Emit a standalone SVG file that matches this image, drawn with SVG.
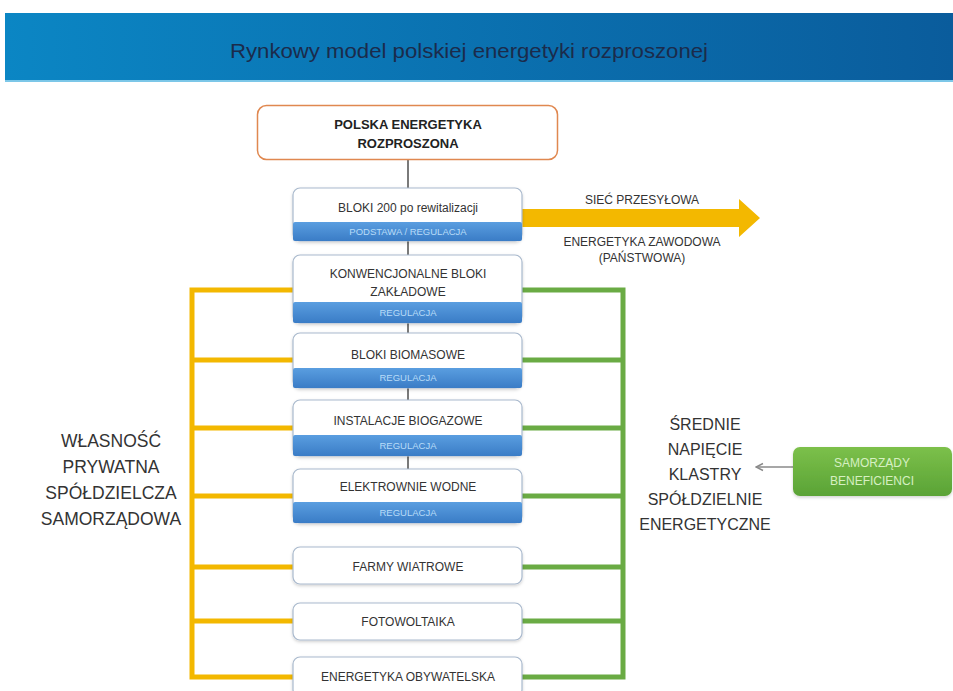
<svg xmlns="http://www.w3.org/2000/svg" width="953" height="691" viewBox="0 0 953 691">
<defs>
<linearGradient id="hdr" x1="0" y1="0" x2="1" y2="0">
<stop offset="0" stop-color="#0b86c4"/>
<stop offset="1" stop-color="#0a5c9c"/>
</linearGradient>
<linearGradient id="band" x1="0" y1="0" x2="0" y2="1">
<stop offset="0" stop-color="#5a9ee0"/>
<stop offset="1" stop-color="#3a7cc6"/>
</linearGradient>
<linearGradient id="gbox" x1="0" y1="0" x2="0" y2="1">
<stop offset="0" stop-color="#7cc04a"/>
<stop offset="1" stop-color="#5aa336"/>
</linearGradient>
<filter id="sh" x="-10%" y="-10%" width="120%" height="130%">
<feDropShadow dx="0" dy="1.5" stdDeviation="1.5" flood-color="#000" flood-opacity="0.18"/>
</filter>
<marker id="ah" markerWidth="10" markerHeight="10" refX="9" refY="5" orient="auto" markerUnits="userSpaceOnUse">
<path d="M2,1.5 L9,5 L2,8.5" fill="none" stroke="#8a8a8a" stroke-width="1.5"/>
</marker>
<style>
.box{fill:#fff;stroke:#a9b9cd;stroke-width:1.2;filter:url(#sh)}
.band{fill:url(#band)}
.t{font-family:"Liberation Sans",Arial,sans-serif;font-size:12px;fill:#333;text-anchor:middle}
.tb{font-family:"Liberation Sans",Arial,sans-serif;font-size:13px;font-weight:bold;fill:#222;text-anchor:middle}
.bt{font-family:"Liberation Sans",Arial,sans-serif;font-size:9.5px;fill:#b8dcf8;text-anchor:middle}
.side{font-family:"Liberation Sans",Arial,sans-serif;fill:#333;text-anchor:middle}
.gray{stroke:#7a7a7a;stroke-width:2;fill:none}
.y{stroke:#f3b800;stroke-width:5;fill:none}
.g{stroke:#6aab44;stroke-width:5;fill:none}
</style>
</defs>
<rect width="953" height="691" fill="#fff"/>
<g id="header">
<rect x="5" y="13" width="948" height="67" fill="url(#hdr)"/>
<rect x="5" y="80" width="948" height="2" fill="#7cc7e8"/>
<text x="469" y="58" font-family="'Liberation Sans',Arial,sans-serif" font-size="21" fill="#1b2b4b" text-anchor="middle" textLength="478" lengthAdjust="spacingAndGlyphs">Rynkowy model polskiej energetyki rozproszonej</text>
</g>
<g id="connectors">
<path class="gray" d="M408,160 V188 M408,241 V255 M408,322 V333 M408,388 V400 M408,456 V469"/>
<path class="y" d="M293,290 H192 V677 H293 M192,360 H293 M192,428 H293 M192,496 H293 M192,567 H293 M192,621 H293"/>
<path class="g" d="M522,290 H623 V677 H522 M623,360 H522 M623,428 H522 M623,496 H522 M623,567 H522 M623,621 H522"/>
<path d="M522,209 H739 V199 L760,218 L739,237 V227 H522 Z" fill="#f3b800"/>
<line x1="793" y1="467" x2="756" y2="467" stroke="#8a8a8a" stroke-width="1.5" marker-end="url(#ah)"/>
</g>
<g id="root">
<rect x="257.5" y="105.5" width="300" height="54" rx="9" fill="#fff" stroke="#e08850" stroke-width="1.5"/>
<text class="tb" x="408" y="129">POLSKA ENERGETYKA</text>
<text class="tb" x="408" y="148">ROZPROSZONA</text>
</g>
<g id="bloki200">
<rect class="box" x="293" y="188" width="229" height="53" rx="7"/>
<rect class="band" x="293" y="222" width="229" height="19" rx="2"/>
<text class="t" x="408" y="212">BLOKI 200 po rewitalizacji</text>
<text class="bt" x="408" y="235">PODSTAWA / REGULACJA</text>
</g>
<g id="arrow-labels">
<text class="t" x="642" y="204" font-size="11">SIEĆ PRZESYŁOWA</text>
<text class="t" x="642" y="246" font-size="11">ENERGETYKA ZAWODOWA</text>
<text class="t" x="642" y="262" font-size="11">(PAŃSTWOWA)</text>
</g>
<g id="konwencjonalne">
<rect class="box" x="293" y="255" width="229" height="68" rx="7"/>
<rect class="band" x="293" y="302" width="229" height="21" rx="2"/>
<text class="t" x="408" y="278">KONWENCJONALNE BLOKI</text>
<text class="t" x="408" y="296">ZAKŁADOWE</text>
<text class="bt" x="408" y="316">REGULACJA</text>
</g>
<g id="biomasowe">
<rect class="box" x="293" y="333" width="229" height="55" rx="7"/>
<rect class="band" x="293" y="368" width="229" height="20" rx="2"/>
<text class="t" x="408" y="359">BLOKI BIOMASOWE</text>
<text class="bt" x="408" y="381">REGULACJA</text>
</g>
<g id="biogazowe">
<rect class="box" x="293" y="400" width="229" height="56" rx="7"/>
<rect class="band" x="293" y="435" width="229" height="21" rx="2"/>
<text class="t" x="408" y="425">INSTALACJE BIOGAZOWE</text>
<text class="bt" x="408" y="449">REGULACJA</text>
</g>
<g id="wodne">
<rect class="box" x="293" y="469" width="229" height="54" rx="7"/>
<rect class="band" x="293" y="502" width="229" height="21" rx="2"/>
<text class="t" x="408" y="491">ELEKTROWNIE WODNE</text>
<text class="bt" x="408" y="516">REGULACJA</text>
</g>
<g id="wiatrowe">
<rect class="box" x="293" y="547" width="229" height="37" rx="7"/>
<text class="t" x="408" y="571">FARMY WIATROWE</text>
</g>
<g id="fotowoltaika">
<rect class="box" x="293" y="603" width="229" height="37" rx="7"/>
<text class="t" x="408" y="626">FOTOWOLTAIKA</text>
</g>
<g id="obywatelska">
<rect class="box" x="293" y="657" width="229" height="40" rx="7"/>
<text class="t" x="408" y="681">ENERGETYKA OBYWATELSKA</text>
</g>
<g id="wlasnosc">
<text class="side" font-size="17.5" x="111" y="447">WŁASNOŚĆ</text>
<text class="side" font-size="17.5" x="111" y="473">PRYWATNA</text>
<text class="side" font-size="17.5" x="111" y="499">SPÓŁDZIELCZA</text>
<text class="side" font-size="17.5" x="111" y="525">SAMORZĄDOWA</text>
</g>
<g id="srednie">
<text class="side" font-size="16" x="705" y="430">ŚREDNIE</text>
<text class="side" font-size="16" x="705" y="455">NAPIĘCIE</text>
<text class="side" font-size="16" x="705" y="480">KLASTRY</text>
<text class="side" font-size="16" x="705" y="505">SPÓŁDZIELNIE</text>
<text class="side" font-size="16" x="705" y="530">ENERGETYCZNE</text>
</g>
<g id="samorzady">
<rect x="793" y="447" width="159" height="49" rx="7" fill="url(#gbox)" filter="url(#sh)"/>
<text class="t" x="872" y="467" style="fill:#d6f0c2" font-size="12.5">SAMORZĄDY</text>
<text class="t" x="872" y="485" style="fill:#d6f0c2" font-size="12.5">BENEFICIENCI</text>
</g>
</svg>
